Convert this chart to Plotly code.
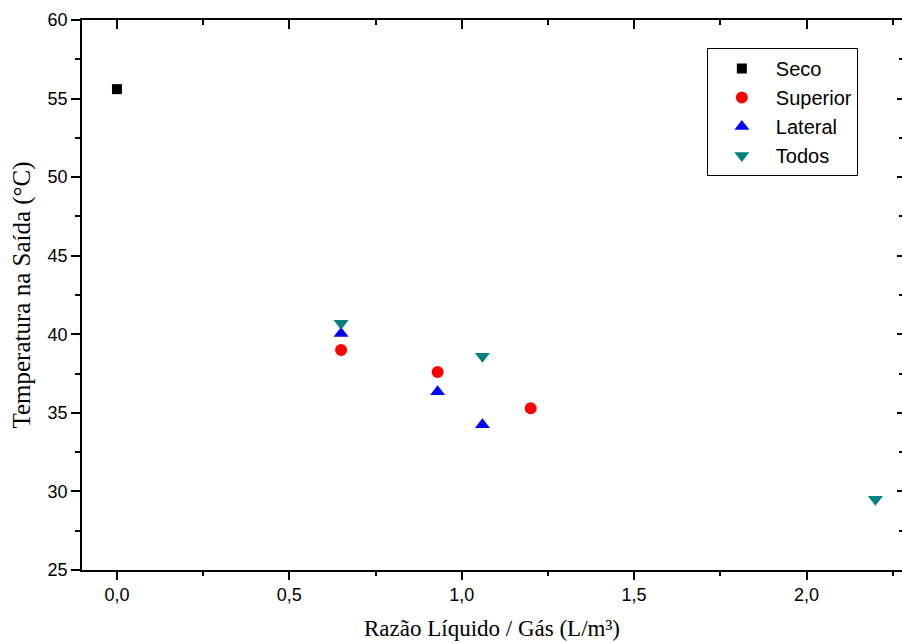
import plotly.graph_objects as go

seco_x = [0.0]
seco_y = [55.6]
sup_x = [0.65, 0.93, 1.20]
sup_y = [39.0, 37.6, 35.3]
lat_x = [0.65, 0.93, 1.06]
lat_y = [40.05, 36.35, 34.25]
tod_x = [0.65, 1.06, 2.20]
tod_y = [40.7, 38.6, 29.5]

x_range = [-0.1014, 2.277]
y_range = [25, 60]

fig = go.Figure()
fig.add_trace(go.Scatter(x=seco_x, y=seco_y, mode="markers", name="Seco",
                         marker=dict(symbol="square", size=10, color="black")))
fig.add_trace(go.Scatter(x=sup_x, y=sup_y, mode="markers", name="Superior",
                         marker=dict(symbol="circle", size=12, color="#FF0000")))
fig.add_trace(go.Scatter(x=lat_x, y=lat_y, mode="markers", name="Lateral",
                         marker=dict(symbol="triangle-up", size=13, color="#0000FF")))
fig.add_trace(go.Scatter(x=tod_x, y=tod_y, mode="markers", name="Todos",
                         marker=dict(symbol="triangle-down", size=13, color="#008080")))
# invisible trace to activate mirrored axes
fig.add_trace(go.Scatter(x=x_range, y=y_range, mode="markers", xaxis="x2", yaxis="y2",
                         marker=dict(opacity=0), showlegend=False, hoverinfo="skip"))

tickfont = dict(family="Liberation Sans, Arial", size=18, color="black")
fig.update_layout(
    width=902, height=643,
    margin=dict(l=82, r=0, t=20, b=73),
    paper_bgcolor="white", plot_bgcolor="white",
    separators=",.",
    showlegend=True,
    legend=dict(x=0.762, y=0.949, xanchor="left", yanchor="top",
                bordercolor="black", borderwidth=1, bgcolor="white", itemwidth=58,
                font=dict(family="Liberation Sans, Arial", size=20, color="black")),
    xaxis=dict(range=x_range, dtick=0.5, tick0=0, tickformat=".1f",
               showgrid=False, zeroline=False, showline=True, linecolor="black", linewidth=1.5,
               ticks="outside", ticklen=8, tickwidth=1.5, tickcolor="black",
               minor=dict(dtick=0.25, tick0=0, ticks="outside", ticklen=4, tickwidth=1.5, tickcolor="black"),
               tickfont=tickfont,
               title=dict(text="Razão Líquido / Gás (L/m³)",
                          font=dict(family="Liberation Serif, Times New Roman", size=23, color="black"),
                          standoff=16)),
    yaxis=dict(range=y_range, dtick=5, tick0=25,
               showgrid=False, zeroline=False, showline=True, linecolor="black", linewidth=1.5,
               ticks="outside", ticklen=9, tickwidth=1.5, tickcolor="black",
               minor=dict(dtick=2.5, tick0=25, ticks="outside", ticklen=5, tickwidth=1.5, tickcolor="black"),
               tickfont=tickfont,
               title=dict(text="Temperatura na Saída (°C)",
                          font=dict(family="Liberation Serif, Times New Roman", size=25, color="black"),
                          standoff=10)),
    xaxis2=dict(range=x_range, overlaying="x", side="top", dtick=0.5, tick0=0,
                showticklabels=False, showgrid=False, zeroline=False,
                showline=True, linecolor="black", linewidth=1.5,
                ticks="inside", ticklen=9, tickwidth=1.5, tickcolor="black",
                minor=dict(dtick=0.25, tick0=0, ticks="inside", ticklen=5, tickwidth=1.5, tickcolor="black")),
    yaxis2=dict(range=y_range, overlaying="y", side="right", dtick=5, tick0=25,
                showticklabels=False, showgrid=False, zeroline=False,
                showline=False,
                ticks="inside", ticklen=5, tickwidth=1.5, tickcolor="black",
                minor=dict(dtick=2.5, tick0=25, ticks="inside", ticklen=3, tickwidth=1.5, tickcolor="black")),
)

fig.write_html("out.html")
